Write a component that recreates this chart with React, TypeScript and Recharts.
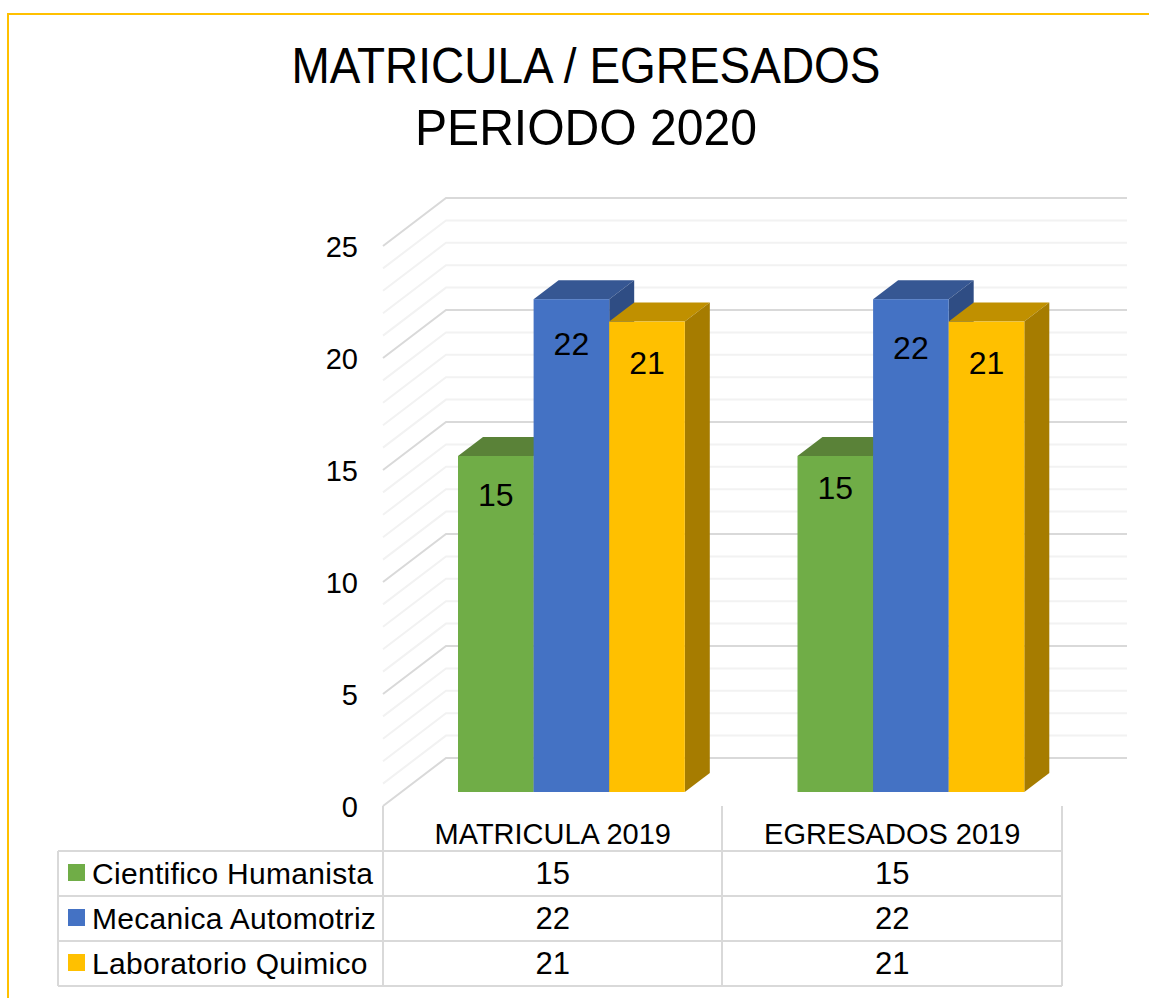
import { Bar, BarChart, CartesianGrid, LabelList, XAxis, YAxis } from 'recharts'

const categories = ['MATRICULA 2019', 'EGRESADOS 2019']
const cientifico = [15, 15]
const mecanica = [22, 22]
const laboratorio = [21, 21]
const yTicks = [0, 1, 2, 3, 4, 5, 6, 7, 8, 9, 10, 11, 12, 13, 14, 15, 16, 17, 18, 19, 20, 21, 22, 23, 24, 25]

const series = [
  { key: 'cientifico', name: 'Cientifico Humanista', values: cientifico, front: '#70AD47', top: '#5A8238', side: '#4F7331' },
  { key: 'mecanica', name: 'Mecanica Automotriz', values: mecanica, front: '#4472C4', top: '#365793', side: '#2F4D84' },
  { key: 'laboratorio', name: 'Laboratorio Quimico', values: laboratorio, front: '#FFC000', top: '#C09000', side: '#A67C00' },
]

const data = categories.map((category, i) => ({
  category,
  cientifico: cientifico[i],
  mecanica: mecanica[i],
  laboratorio: laboratorio[i],
}))

const FONT = '"Liberation Sans", Arial, sans-serif'
const DEPTH_X = 25
const DEPTH_Y = 19
const TABLE_ROWS = [851, 896, 941, 986]
const TABLE_COLS = [383, 722, 1062]

// the labels in the reference do not sit at one fixed distance from the bar top
const labelNudge: Record<string, number[]> = {
  cientifico: [39, 32],
  mecanica: [45, 49],
  laboratorio: [41, 41],
}

// fake 3d box: front face plus top and side parallelograms
const Box3D = (props: any) => {
  const { x, y, width, height, front, top, side } = props
  return (
    <g>
      <path
        d={`M${x},${y} l${DEPTH_X},${-DEPTH_Y} h${width} l${-DEPTH_X},${DEPTH_Y} z`}
        fill={top}
      />
      <path
        d={`M${x + width},${y} l${DEPTH_X},${-DEPTH_Y} v${height} l${-DEPTH_X},${DEPTH_Y} z`}
        fill={side}
      />
      <rect x={x} y={y} width={width} height={height} fill={front} />
    </g>
  )
}

// each grid line runs up the side wall and then along the back wall.
// every 5th one is darker, counting from either end gives the same lines
const WallLine = ({ y1, index }: any) => (
  <polyline
    key={index}
    points={`383,${y1 + 14} 446,${y1 - 34} 1127,${y1 - 34}`}
    fill="none"
    stroke={index % 5 === 0 ? '#D9D9D9' : '#F2F2F2'}
    strokeWidth={2}
  />
)

const YLabel = ({ y, payload }: any) =>
  payload.value % 5 === 0 ? (
    <text x={358} y={y + 25} textAnchor="end" fontSize={29} fontFamily={FONT} fill="#000">
      {payload.value}
    </text>
  ) : (
    <g />
  )

// category ticks double as the columns of the data table
const TableTick = ({ x, index, payload }: any) => {
  const cx = x - 19
  return (
    <g>
      <text x={cx} y={844} textAnchor="middle" fontSize={29} fontFamily={FONT} fill="#000">
        {payload.value}
      </text>
      {series.map((s, row) => (
        <text
          key={s.key}
          x={cx}
          y={TABLE_ROWS[row] + 33}
          textAnchor="middle"
          fontSize={31}
          fontFamily={FONT}
          fill="#000"
        >
          {s.values[index]}
        </text>
      ))}
    </g>
  )
}

export default function App() {
  return (
    <div style={{ position: 'absolute', left: 0, top: 0 }}>
      <BarChart
        width={1149}
        height={998}
        data={data}
        margin={{ left: 401, right: 68, top: 232, bottom: 205 }}
        barSize={75.6}
        barGap={0}
      >
        <path d="M8,998 V14 H1149" fill="none" stroke="#FFC000" strokeWidth={2} />
        <text
          x={586}
          y={83}
          textAnchor="middle"
          fontSize={50}
          textLength={589}
          lengthAdjust="spacingAndGlyphs"
          fontFamily={FONT}
          fill="#000"
        >
          MATRICULA / EGRESADOS
        </text>
        <text
          x={586}
          y={145}
          textAnchor="middle"
          fontSize={50}
          textLength={342}
          lengthAdjust="spacingAndGlyphs"
          fontFamily={FONT}
          fill="#000"
        >
          PERIODO 2020
        </text>
        <CartesianGrid vertical={false} horizontal={WallLine} />
        <YAxis
          width={1}
          domain={[0, 25]}
          ticks={yTicks}
          interval={0}
          axisLine={false}
          tickLine={false}
          tick={YLabel}
        />
        <XAxis
          dataKey="category"
          height={1}
          axisLine={false}
          tickLine={false}
          interval={0}
          tick={TableTick}
        />
        {series.map((s) => (
          <Bar
            key={s.key}
            dataKey={s.key}
            isAnimationActive={false}
            shape={(p: any) => <Box3D {...p} front={s.front} top={s.top} side={s.side} />}
          >
            <LabelList
              dataKey={s.key}
              content={(p: any) => (
                <text
                  x={p.x + p.width / 2}
                  y={p.y + labelNudge[s.key][p.index] + 11}
                  textAnchor="middle"
                  fontSize={32}
                  fontFamily={FONT}
                  fill="#000"
                >
                  {p.value}
                </text>
              )}
            />
          </Bar>
        ))}
        {TABLE_ROWS.map((y) => (
          <line key={y} x1={58} x2={1062} y1={y} y2={y} stroke="#D9D9D9" strokeWidth={2} />
        ))}
        {TABLE_COLS.map((x) => (
          <line key={x} x1={x} x2={x} y1={806} y2={986} stroke="#D9D9D9" strokeWidth={2} />
        ))}
        <line x1={58} x2={58} y1={851} y2={986} stroke="#D9D9D9" strokeWidth={2} />
        {series.map((s, row) => (
          <g key={s.key}>
            <rect x={68} y={TABLE_ROWS[row] + 13} width={17} height={17} fill={s.front} />
            <text
              x={92}
              y={TABLE_ROWS[row] + 33}
              fontSize={30}
              letterSpacing={0.3}
              fontFamily={FONT}
              fill="#000"
            >
              {s.name}
            </text>
          </g>
        ))}
      </BarChart>
    </div>
  )
}
